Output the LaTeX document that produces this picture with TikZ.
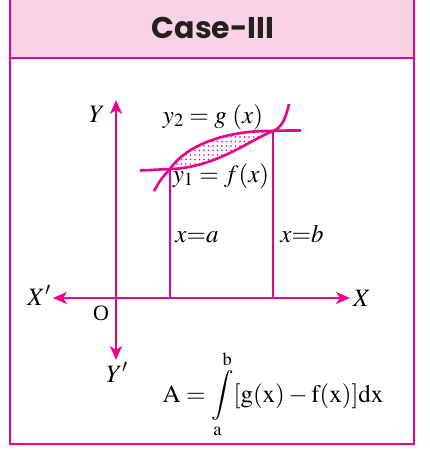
\documentclass[tikz,border=0pt]{standalone}
\usepackage{mathptmx}
\usepackage[no-math]{fontspec}
\setmainfont{Liberation Serif}
\newfontfamily\titlefont{Poppins}
\usetikzlibrary{arrows.meta}
\definecolor{casepink}{RGB}{236,0,140}
\definecolor{headpink}{RGB}{249,210,228}
\definecolor{titlegray}{RGB}{35,31,32}

\begin{document}
\begin{tikzpicture}[x=1pt, y=-1pt, >={Stealth[length=14pt,width=12pt,inset=4pt]},
  frame/.style={casepink, line width=2.4pt},
  axisline/.style={casepink, line width=2pt},
  curveline/.style={casepink, line width=2.6pt},
  lbl/.style={inner sep=0pt, anchor=base, font=\fontsize{25}{30}\selectfont}]
\useasboundingbox (0,0) rectangle (430,450);
\clip (0,0) rectangle (430,450);

% Header band
\fill[headpink] (10,-5) rectangle (414,58);
\draw[frame] (10,-5) rectangle (414,444);
\draw[frame] (10,58) -- (414,58);
\node[inner sep=0pt, text=titlegray, font=\titlefont\bfseries\fontsize{30}{36}\selectfont] (title) at (213,28) {Case-III};

% Axes
\coordinate (O) at (116,298);
\coordinate (Xneg) at (53,298);
\coordinate (Xpos) at (350,298);
\coordinate (Ypos) at (116,100);
\coordinate (Yneg) at (116,360);
\draw[axisline, <->] (Xneg) -- (Xpos);
\draw[axisline, <->] (Yneg) -- (Ypos);
\node[lbl] (xneglabel) at (39,305) {$X'$};
\node[lbl] (xposlabel) at (362,306) {$X$};
\node[lbl] (yposlabel) at (97,122) {$Y$};
\node[lbl] (yneglabel) at (117,382) {$Y'$};
\node[lbl, font=\fontsize{22}{26}\selectfont] (origin) at (101,320) {O};

% Intersection points of the two curves
\coordinate (A) at (170,169);
\coordinate (B) at (273,131);

% Dotted region between the curves
\begin{scope}
  \clip (A) .. controls (190,140) and (238,130) .. (B)
      .. controls (250,140) and (215,168) .. (A) -- cycle;
  \foreach \y in {128,132.5,...,172}
    \foreach \x in {168,172.5,...,276}
      \fill[casepink] (\x,\y) circle (0.95);
\end{scope}

% y1 = f(x)
\draw[curveline] (140,170.5) .. controls (155,170.5) .. (A)
  .. controls (215,168) and (250,140) .. (B) .. controls (285,130.5) .. (301,130.5);
% y2 = g(x)
\draw[curveline] (154,191) .. controls (161,179) .. (A)
  .. controls (190,140) and (238,130) .. (B) .. controls (282,128) and (286,117) .. (289,104);

% Ordinates x=a and x=b
\draw[axisline] (A) -- (A |- O);
\draw[axisline] (B) -- (B |- O);
\node[lbl] (ordalabel) at (197,242) {$x{=}a$};
\node[lbl] (ordblabel) at (302,242) {$x{=}b$};

\node[lbl] (glabel) at (213,123) {$y_2 = g\;(x)$};
\node[lbl] (flabel) at (221,182) {$y_1 = f(x)$};

% Area formula
\node[lbl] (area) at (273,402) {$\displaystyle \mathrm{A} = \int\limits_{\mathrm{a}}^{\mathrm{b}}\!\mathrm{[g(x)} - \mathrm{f(x)]dx}$};
\end{tikzpicture}
\end{document}
